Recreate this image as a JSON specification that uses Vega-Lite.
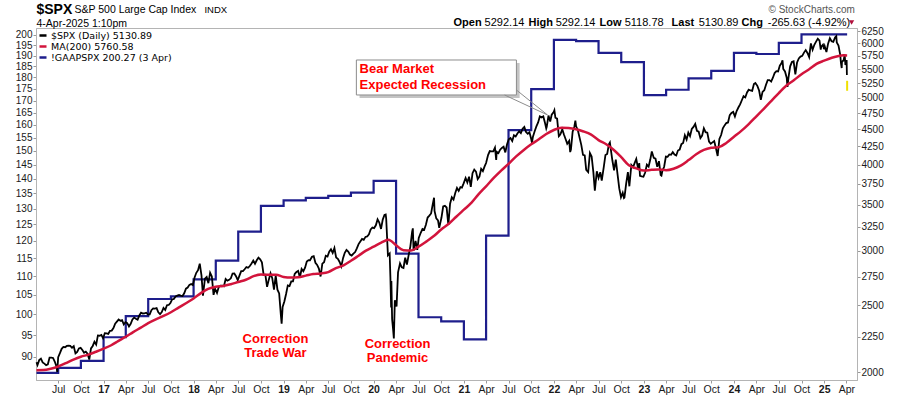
{
"$schema":"https://vega.github.io/schema/vega-lite/v6.json",
"width":821,"height":352,
"autosize":{"type":"none"},
"padding":{"left":36,"top":28,"right":43,"bottom":16},
"background":"white",
"config":{"view":{"stroke":"#b4b4b4","strokeWidth":1},"font":"Liberation Sans","text":{"font":"Liberation Sans"}},
"datasets":{
"one":[{}],
"spx":[
{"d":"2016-04-04","v":2066},{"d":"2016-04-08","v":2047},{"d":"2016-04-15","v":2081},{"d":"2016-04-22","v":2091},{"d":"2016-04-29","v":2065},{"d":"2016-05-06","v":2057},{"d":"2016-05-13","v":2046},{"d":"2016-05-20","v":2052},{"d":"2016-05-27","v":2099},{"d":"2016-06-03","v":2099},{"d":"2016-06-10","v":2096},{"d":"2016-06-17","v":2071},{"d":"2016-06-24","v":2037},{"d":"2016-06-27","v":2000},{"d":"2016-07-01","v":2102},{"d":"2016-07-08","v":2130},{"d":"2016-07-15","v":2161},{"d":"2016-07-22","v":2175},{"d":"2016-07-29","v":2173},{"d":"2016-08-05","v":2182},{"d":"2016-08-12","v":2184},{"d":"2016-08-19","v":2183},{"d":"2016-08-26","v":2169},{"d":"2016-09-02","v":2180},{"d":"2016-09-09","v":2128},{"d":"2016-09-16","v":2139},{"d":"2016-09-23","v":2164},{"d":"2016-09-30","v":2168},{"d":"2016-10-07","v":2153},{"d":"2016-10-14","v":2133},{"d":"2016-10-21","v":2141},{"d":"2016-10-28","v":2126},{"d":"2016-11-04","v":2085},{"d":"2016-11-11","v":2164},{"d":"2016-11-18","v":2182},{"d":"2016-11-25","v":2213},{"d":"2016-12-02","v":2192},{"d":"2016-12-09","v":2260},{"d":"2016-12-16","v":2258},{"d":"2016-12-23","v":2264},{"d":"2016-12-30","v":2239},
{"d":"2017-01-06","v":2277},{"d":"2017-01-13","v":2275},{"d":"2017-01-20","v":2271},{"d":"2017-01-27","v":2295},{"d":"2017-02-03","v":2297},{"d":"2017-02-10","v":2316},{"d":"2017-02-17","v":2351},{"d":"2017-02-24","v":2367},{"d":"2017-03-03","v":2383},{"d":"2017-03-10","v":2373},{"d":"2017-03-17","v":2378},{"d":"2017-03-24","v":2344},{"d":"2017-03-31","v":2363},{"d":"2017-04-07","v":2355},{"d":"2017-04-14","v":2329},{"d":"2017-04-21","v":2349},{"d":"2017-04-28","v":2384},{"d":"2017-05-05","v":2399},{"d":"2017-05-12","v":2390},{"d":"2017-05-19","v":2382},{"d":"2017-05-26","v":2416},{"d":"2017-06-02","v":2439},{"d":"2017-06-09","v":2432},{"d":"2017-06-16","v":2433},{"d":"2017-06-23","v":2438},{"d":"2017-06-30","v":2423},{"d":"2017-07-07","v":2425},{"d":"2017-07-14","v":2459},{"d":"2017-07-21","v":2473},{"d":"2017-07-28","v":2472},{"d":"2017-08-04","v":2476},{"d":"2017-08-11","v":2441},{"d":"2017-08-18","v":2426},{"d":"2017-08-25","v":2443},{"d":"2017-09-01","v":2477},{"d":"2017-09-08","v":2461},{"d":"2017-09-15","v":2500},{"d":"2017-09-22","v":2502},{"d":"2017-09-29","v":2519},{"d":"2017-10-06","v":2549},{"d":"2017-10-13","v":2553},{"d":"2017-10-20","v":2575},{"d":"2017-10-27","v":2581},{"d":"2017-11-03","v":2587},{"d":"2017-11-10","v":2582},{"d":"2017-11-17","v":2578},{"d":"2017-11-24","v":2602},{"d":"2017-12-01","v":2642},{"d":"2017-12-08","v":2652},{"d":"2017-12-15","v":2676},{"d":"2017-12-22","v":2683},{"d":"2017-12-29","v":2674},
{"d":"2018-01-05","v":2743},{"d":"2018-01-12","v":2786},{"d":"2018-01-19","v":2810},{"d":"2018-01-26","v":2873},{"d":"2018-02-02","v":2762},{"d":"2018-02-08","v":2581},{"d":"2018-02-16","v":2732},{"d":"2018-02-23","v":2747},{"d":"2018-03-02","v":2691},{"d":"2018-03-09","v":2786},{"d":"2018-03-16","v":2752},{"d":"2018-03-23","v":2588},{"d":"2018-03-29","v":2641},{"d":"2018-04-06","v":2604},{"d":"2018-04-13","v":2656},{"d":"2018-04-20","v":2670},{"d":"2018-04-27","v":2670},{"d":"2018-05-04","v":2663},{"d":"2018-05-11","v":2728},{"d":"2018-05-18","v":2713},{"d":"2018-05-25","v":2721},{"d":"2018-06-01","v":2735},{"d":"2018-06-08","v":2779},{"d":"2018-06-15","v":2780},{"d":"2018-06-22","v":2755},{"d":"2018-06-29","v":2718},{"d":"2018-07-06","v":2760},{"d":"2018-07-13","v":2801},{"d":"2018-07-20","v":2802},{"d":"2018-07-27","v":2819},{"d":"2018-08-03","v":2840},{"d":"2018-08-10","v":2833},{"d":"2018-08-17","v":2850},{"d":"2018-08-24","v":2875},{"d":"2018-08-31","v":2902},{"d":"2018-09-07","v":2872},{"d":"2018-09-14","v":2905},{"d":"2018-09-21","v":2930},{"d":"2018-09-28","v":2914},{"d":"2018-10-05","v":2886},{"d":"2018-10-12","v":2767},{"d":"2018-10-19","v":2768},{"d":"2018-10-26","v":2659},{"d":"2018-11-02","v":2723},{"d":"2018-11-09","v":2781},{"d":"2018-11-16","v":2736},{"d":"2018-11-23","v":2633},{"d":"2018-11-30","v":2760},{"d":"2018-12-07","v":2633},{"d":"2018-12-14","v":2600},{"d":"2018-12-21","v":2417},{"d":"2018-12-24","v":2351},{"d":"2018-12-28","v":2486},
{"d":"2019-01-04","v":2532},{"d":"2019-01-11","v":2596},{"d":"2019-01-18","v":2671},{"d":"2019-01-25","v":2665},{"d":"2019-02-01","v":2707},{"d":"2019-02-08","v":2708},{"d":"2019-02-15","v":2776},{"d":"2019-02-22","v":2793},{"d":"2019-03-01","v":2804},{"d":"2019-03-08","v":2743},{"d":"2019-03-15","v":2822},{"d":"2019-03-22","v":2800},{"d":"2019-03-29","v":2834},{"d":"2019-04-05","v":2893},{"d":"2019-04-12","v":2907},{"d":"2019-04-18","v":2905},{"d":"2019-04-26","v":2940},{"d":"2019-05-03","v":2946},{"d":"2019-05-10","v":2881},{"d":"2019-05-17","v":2860},{"d":"2019-05-24","v":2826},{"d":"2019-05-31","v":2752},{"d":"2019-06-07","v":2873},{"d":"2019-06-14","v":2887},{"d":"2019-06-21","v":2950},{"d":"2019-06-28","v":2942},{"d":"2019-07-05","v":2990},{"d":"2019-07-12","v":3014},{"d":"2019-07-19","v":2977},{"d":"2019-07-26","v":3026},{"d":"2019-08-02","v":2932},{"d":"2019-08-09","v":2919},{"d":"2019-08-16","v":2889},{"d":"2019-08-23","v":2847},{"d":"2019-08-30","v":2926},{"d":"2019-09-06","v":2979},{"d":"2019-09-13","v":3007},{"d":"2019-09-20","v":2992},{"d":"2019-09-27","v":2962},{"d":"2019-10-04","v":2952},{"d":"2019-10-11","v":2970},{"d":"2019-10-18","v":2986},{"d":"2019-10-25","v":3023},{"d":"2019-11-01","v":3067},{"d":"2019-11-08","v":3093},{"d":"2019-11-15","v":3120},{"d":"2019-11-22","v":3110},{"d":"2019-11-29","v":3141},{"d":"2019-12-06","v":3146},{"d":"2019-12-13","v":3169},{"d":"2019-12-20","v":3221},{"d":"2019-12-27","v":3240},
{"d":"2020-01-03","v":3235},{"d":"2020-01-10","v":3265},{"d":"2020-01-17","v":3330},{"d":"2020-01-24","v":3295},{"d":"2020-01-31","v":3226},{"d":"2020-02-07","v":3328},{"d":"2020-02-14","v":3380},{"d":"2020-02-19","v":3386},{"d":"2020-02-21","v":3338},{"d":"2020-02-28","v":2954},{"d":"2020-03-06","v":2972},{"d":"2020-03-09","v":2747},{"d":"2020-03-12","v":2481},{"d":"2020-03-13","v":2711},{"d":"2020-03-16","v":2386},{"d":"2020-03-20","v":2305},{"d":"2020-03-23","v":2237},{"d":"2020-03-27","v":2541},{"d":"2020-04-03","v":2489},{"d":"2020-04-09","v":2790},{"d":"2020-04-17","v":2875},{"d":"2020-04-24","v":2837},{"d":"2020-05-01","v":2831},{"d":"2020-05-08","v":2930},{"d":"2020-05-15","v":2864},{"d":"2020-05-22","v":2955},{"d":"2020-05-29","v":3044},{"d":"2020-06-05","v":3194},{"d":"2020-06-08","v":3232},{"d":"2020-06-11","v":3002},{"d":"2020-06-19","v":3098},{"d":"2020-06-26","v":3009},{"d":"2020-07-02","v":3130},{"d":"2020-07-10","v":3185},{"d":"2020-07-17","v":3225},{"d":"2020-07-24","v":3216},{"d":"2020-07-31","v":3271},{"d":"2020-08-07","v":3351},{"d":"2020-08-14","v":3373},{"d":"2020-08-21","v":3397},{"d":"2020-08-28","v":3508},{"d":"2020-09-02","v":3580},{"d":"2020-09-04","v":3427},{"d":"2020-09-11","v":3341},{"d":"2020-09-18","v":3319},{"d":"2020-09-23","v":3237},{"d":"2020-10-02","v":3348},{"d":"2020-10-09","v":3477},{"d":"2020-10-16","v":3484},{"d":"2020-10-23","v":3465},{"d":"2020-10-30","v":3270},{"d":"2020-11-06","v":3510},{"d":"2020-11-13","v":3585},{"d":"2020-11-20","v":3558},{"d":"2020-11-27","v":3638},{"d":"2020-12-04","v":3699},{"d":"2020-12-11","v":3663},{"d":"2020-12-18","v":3709},{"d":"2020-12-24","v":3703},{"d":"2020-12-31","v":3756},
{"d":"2021-01-08","v":3825},{"d":"2021-01-15","v":3768},{"d":"2021-01-22","v":3841},{"d":"2021-01-29","v":3714},{"d":"2021-02-05","v":3887},{"d":"2021-02-12","v":3934},{"d":"2021-02-19","v":3907},{"d":"2021-02-26","v":3811},{"d":"2021-03-05","v":3842},{"d":"2021-03-12","v":3943},{"d":"2021-03-19","v":3913},{"d":"2021-03-26","v":3975},{"d":"2021-04-01","v":4020},{"d":"2021-04-09","v":4129},{"d":"2021-04-16","v":4185},{"d":"2021-04-23","v":4180},{"d":"2021-04-30","v":4181},{"d":"2021-05-07","v":4233},{"d":"2021-05-12","v":4063},{"d":"2021-05-14","v":4174},{"d":"2021-05-21","v":4156},{"d":"2021-05-28","v":4204},{"d":"2021-06-04","v":4230},{"d":"2021-06-11","v":4247},{"d":"2021-06-18","v":4166},{"d":"2021-06-25","v":4281},{"d":"2021-07-02","v":4352},{"d":"2021-07-09","v":4370},{"d":"2021-07-16","v":4327},{"d":"2021-07-23","v":4412},{"d":"2021-07-30","v":4395},{"d":"2021-08-06","v":4437},{"d":"2021-08-13","v":4468},{"d":"2021-08-20","v":4442},{"d":"2021-08-27","v":4509},{"d":"2021-09-03","v":4535},{"d":"2021-09-10","v":4459},{"d":"2021-09-17","v":4433},{"d":"2021-09-24","v":4455},{"d":"2021-10-01","v":4357},{"d":"2021-10-04","v":4300},{"d":"2021-10-08","v":4391},{"d":"2021-10-15","v":4471},{"d":"2021-10-22","v":4545},{"d":"2021-10-29","v":4605},{"d":"2021-11-05","v":4698},{"d":"2021-11-12","v":4683},{"d":"2021-11-19","v":4698},{"d":"2021-11-26","v":4595},{"d":"2021-12-01","v":4513},{"d":"2021-12-03","v":4538},{"d":"2021-12-10","v":4712},{"d":"2021-12-17","v":4620},{"d":"2021-12-23","v":4725},{"d":"2021-12-31","v":4766},
{"d":"2022-01-03","v":4796},{"d":"2022-01-07","v":4677},{"d":"2022-01-14","v":4663},{"d":"2022-01-21","v":4398},{"d":"2022-01-24","v":4410},{"d":"2022-01-28","v":4432},{"d":"2022-02-04","v":4500},{"d":"2022-02-11","v":4419},{"d":"2022-02-18","v":4349},{"d":"2022-02-24","v":4288},{"d":"2022-03-04","v":4329},{"d":"2022-03-08","v":4170},{"d":"2022-03-11","v":4204},{"d":"2022-03-18","v":4463},{"d":"2022-03-25","v":4543},{"d":"2022-03-29","v":4632},{"d":"2022-04-01","v":4546},{"d":"2022-04-08","v":4488},{"d":"2022-04-14","v":4393},{"d":"2022-04-22","v":4272},{"d":"2022-04-29","v":4132},{"d":"2022-05-06","v":4123},{"d":"2022-05-12","v":3930},{"d":"2022-05-20","v":3901},{"d":"2022-05-27","v":4158},{"d":"2022-06-03","v":4109},{"d":"2022-06-10","v":3901},{"d":"2022-06-16","v":3667},{"d":"2022-06-24","v":3912},{"d":"2022-07-01","v":3825},{"d":"2022-07-08","v":3899},{"d":"2022-07-14","v":3790},{"d":"2022-07-22","v":3962},{"d":"2022-07-29","v":4130},{"d":"2022-08-05","v":4145},{"d":"2022-08-12","v":4280},{"d":"2022-08-16","v":4305},{"d":"2022-08-19","v":4228},{"d":"2022-08-26","v":4058},{"d":"2022-09-02","v":3924},{"d":"2022-09-09","v":4067},{"d":"2022-09-16","v":3873},{"d":"2022-09-23","v":3693},{"d":"2022-09-30","v":3586},{"d":"2022-10-07","v":3640},{"d":"2022-10-12","v":3577},{"d":"2022-10-14","v":3583},{"d":"2022-10-21","v":3753},{"d":"2022-10-28","v":3901},{"d":"2022-11-03","v":3720},{"d":"2022-11-11","v":3993},{"d":"2022-11-18","v":3965},{"d":"2022-11-25","v":4026},{"d":"2022-12-01","v":4076},{"d":"2022-12-09","v":3934},{"d":"2022-12-13","v":4020},{"d":"2022-12-16","v":3852},{"d":"2022-12-23","v":3845},{"d":"2022-12-30","v":3840},
{"d":"2023-01-06","v":3895},{"d":"2023-01-13","v":3999},{"d":"2023-01-20","v":3973},{"d":"2023-01-27","v":4071},{"d":"2023-02-02","v":4180},{"d":"2023-02-10","v":4090},{"d":"2023-02-17","v":4079},{"d":"2023-02-24","v":3970},{"d":"2023-03-03","v":4046},{"d":"2023-03-10","v":3862},{"d":"2023-03-13","v":3855},{"d":"2023-03-17","v":3917},{"d":"2023-03-24","v":3971},{"d":"2023-03-31","v":4109},{"d":"2023-04-07","v":4105},{"d":"2023-04-14","v":4138},{"d":"2023-04-21","v":4133},{"d":"2023-04-28","v":4169},{"d":"2023-05-05","v":4136},{"d":"2023-05-12","v":4124},{"d":"2023-05-19","v":4192},{"d":"2023-05-26","v":4205},{"d":"2023-06-02","v":4282},{"d":"2023-06-09","v":4299},{"d":"2023-06-16","v":4410},{"d":"2023-06-23","v":4348},{"d":"2023-06-30","v":4450},{"d":"2023-07-07","v":4399},{"d":"2023-07-14","v":4505},{"d":"2023-07-21","v":4536},{"d":"2023-07-28","v":4582},{"d":"2023-08-04","v":4478},{"d":"2023-08-11","v":4464},{"d":"2023-08-18","v":4370},{"d":"2023-08-25","v":4406},{"d":"2023-09-01","v":4516},{"d":"2023-09-08","v":4457},{"d":"2023-09-15","v":4450},{"d":"2023-09-22","v":4320},{"d":"2023-09-29","v":4288},{"d":"2023-10-06","v":4308},{"d":"2023-10-13","v":4327},{"d":"2023-10-20","v":4224},{"d":"2023-10-27","v":4117},{"d":"2023-11-03","v":4358},{"d":"2023-11-10","v":4415},{"d":"2023-11-17","v":4514},{"d":"2023-11-24","v":4559},{"d":"2023-12-01","v":4595},{"d":"2023-12-08","v":4604},{"d":"2023-12-15","v":4719},{"d":"2023-12-22","v":4754},{"d":"2023-12-29","v":4770},
{"d":"2024-01-05","v":4697},{"d":"2024-01-12","v":4784},{"d":"2024-01-19","v":4840},{"d":"2024-01-26","v":4891},{"d":"2024-02-02","v":4959},{"d":"2024-02-09","v":5027},{"d":"2024-02-16","v":5006},{"d":"2024-02-23","v":5089},{"d":"2024-03-01","v":5137},{"d":"2024-03-08","v":5124},{"d":"2024-03-15","v":5117},{"d":"2024-03-22","v":5234},{"d":"2024-03-28","v":5254},{"d":"2024-04-05","v":5204},{"d":"2024-04-12","v":5123},{"d":"2024-04-19","v":4967},{"d":"2024-04-26","v":5100},{"d":"2024-05-03","v":5128},{"d":"2024-05-10","v":5223},{"d":"2024-05-17","v":5303},{"d":"2024-05-24","v":5305},{"d":"2024-05-31","v":5278},{"d":"2024-06-07","v":5347},{"d":"2024-06-14","v":5431},{"d":"2024-06-21","v":5465},{"d":"2024-06-28","v":5460},{"d":"2024-07-05","v":5567},{"d":"2024-07-12","v":5615},{"d":"2024-07-16","v":5667},{"d":"2024-07-19","v":5505},{"d":"2024-07-26","v":5459},{"d":"2024-08-02","v":5346},{"d":"2024-08-05","v":5186},{"d":"2024-08-09","v":5344},{"d":"2024-08-16","v":5554},{"d":"2024-08-23","v":5634},{"d":"2024-08-30","v":5648},{"d":"2024-09-06","v":5408},{"d":"2024-09-13","v":5626},{"d":"2024-09-20","v":5703},{"d":"2024-09-27","v":5738},{"d":"2024-10-04","v":5751},{"d":"2024-10-11","v":5815},{"d":"2024-10-18","v":5864},{"d":"2024-10-25","v":5808},{"d":"2024-11-01","v":5728},{"d":"2024-11-08","v":5996},{"d":"2024-11-15","v":5871},{"d":"2024-11-22","v":5969},{"d":"2024-11-29","v":6032},{"d":"2024-12-06","v":6090},{"d":"2024-12-13","v":6051},{"d":"2024-12-18","v":5872},{"d":"2024-12-20","v":5931},{"d":"2024-12-27","v":5971},{"d":"2024-12-31","v":5882},
{"d":"2025-01-03","v":5942},{"d":"2025-01-10","v":5827},{"d":"2025-01-17","v":5997},{"d":"2025-01-24","v":6101},{"d":"2025-01-31","v":6041},{"d":"2025-02-07","v":6026},{"d":"2025-02-14","v":6115},{"d":"2025-02-19","v":6144},{"d":"2025-02-21","v":6013},{"d":"2025-02-28","v":5955},{"d":"2025-03-07","v":5770},{"d":"2025-03-10","v":5615},{"d":"2025-03-13","v":5522},{"d":"2025-03-14","v":5639},{"d":"2025-03-21","v":5668},{"d":"2025-03-25","v":5776},{"d":"2025-03-28","v":5581},{"d":"2025-03-31","v":5612},{"d":"2025-04-02","v":5671},{"d":"2025-04-03","v":5397}
],
"ma":[
{"d":"2016-04-04","v":2012},{"d":"2016-05-01","v":2013},{"d":"2016-06-01","v":2022},{"d":"2016-07-01","v":2037},{"d":"2016-08-01","v":2060},{"d":"2016-09-01","v":2085},{"d":"2016-10-01","v":2105},{"d":"2016-11-01","v":2120},{"d":"2016-12-01","v":2140},{"d":"2017-01-01","v":2162},{"d":"2017-02-01","v":2187},{"d":"2017-03-01","v":2217},{"d":"2017-04-01","v":2250},{"d":"2017-05-01","v":2285},{"d":"2017-06-01","v":2320},{"d":"2017-07-01","v":2355},{"d":"2017-08-01","v":2385},{"d":"2017-09-01","v":2412},{"d":"2017-10-01","v":2442},{"d":"2017-11-01","v":2480},{"d":"2017-12-01","v":2517},{"d":"2018-01-01","v":2557},{"d":"2018-02-01","v":2605},{"d":"2018-03-01","v":2640},{"d":"2018-04-01","v":2660},{"d":"2018-05-01","v":2666},{"d":"2018-06-01","v":2682},{"d":"2018-07-01","v":2702},{"d":"2018-08-01","v":2722},{"d":"2018-09-01","v":2755},{"d":"2018-10-01","v":2770},{"d":"2018-11-01","v":2767},{"d":"2018-12-01","v":2768},{"d":"2019-01-01","v":2748},{"d":"2019-02-01","v":2742},{"d":"2019-03-01","v":2745},{"d":"2019-04-01","v":2760},{"d":"2019-05-01","v":2775},{"d":"2019-06-01","v":2780},{"d":"2019-07-01","v":2792},{"d":"2019-08-01","v":2830},{"d":"2019-09-01","v":2857},{"d":"2019-10-01","v":2900},{"d":"2019-11-01","v":2950},{"d":"2019-12-01","v":3000},{"d":"2020-01-01","v":3040},{"d":"2020-02-01","v":3082},{"d":"2020-03-01","v":3112},{"d":"2020-04-01","v":3055},{"d":"2020-05-01","v":3005},{"d":"2020-06-01","v":3002},{"d":"2020-07-01","v":3040},{"d":"2020-08-01","v":3092},{"d":"2020-09-01","v":3150},{"d":"2020-10-01","v":3220},{"d":"2020-11-01","v":3282},{"d":"2020-12-01","v":3360},{"d":"2021-01-01","v":3440},{"d":"2021-02-01","v":3522},{"d":"2021-03-01","v":3620},{"d":"2021-04-01","v":3720},{"d":"2021-05-01","v":3822},{"d":"2021-06-01","v":3920},{"d":"2021-07-01","v":4010},{"d":"2021-08-01","v":4110},{"d":"2021-09-01","v":4200},{"d":"2021-10-01","v":4280},{"d":"2021-11-01","v":4352},{"d":"2021-12-01","v":4430},{"d":"2022-01-01","v":4490},{"d":"2022-02-01","v":4522},{"d":"2022-03-01","v":4518},{"d":"2022-04-01","v":4500},{"d":"2022-05-01","v":4468},{"d":"2022-06-01","v":4420},{"d":"2022-07-01","v":4340},{"d":"2022-08-01","v":4280},{"d":"2022-09-01","v":4200},{"d":"2022-10-01","v":4100},{"d":"2022-11-01","v":3990},{"d":"2022-12-01","v":3950},{"d":"2023-01-01","v":3920},{"d":"2023-02-01","v":3930},{"d":"2023-03-01","v":3936},{"d":"2023-04-01","v":3925},{"d":"2023-05-01","v":3945},{"d":"2023-06-01","v":3990},{"d":"2023-07-01","v":4060},{"d":"2023-08-01","v":4140},{"d":"2023-09-01","v":4200},{"d":"2023-10-01","v":4230},{"d":"2023-11-01","v":4240},{"d":"2023-12-01","v":4300},{"d":"2024-01-01","v":4390},{"d":"2024-02-01","v":4480},{"d":"2024-03-01","v":4580},{"d":"2024-04-01","v":4700},{"d":"2024-05-01","v":4820},{"d":"2024-06-01","v":4950},{"d":"2024-07-01","v":5080},{"d":"2024-08-01","v":5210},{"d":"2024-09-01","v":5305},{"d":"2024-10-01","v":5410},{"d":"2024-11-01","v":5500},{"d":"2024-12-01","v":5600},{"d":"2025-01-01","v":5660},{"d":"2025-02-01","v":5715},{"d":"2025-03-01","v":5750},{"d":"2025-03-20","v":5763},{"d":"2025-04-04","v":5761}
],
"eps":[
{"d":"2016-04-04","v":86.5},{"d":"2016-07-01","v":87.6},{"d":"2016-10-01","v":89.1},{"d":"2017-01-01","v":94.5},{"d":"2017-04-01","v":99.6},{"d":"2017-07-01","v":103.9},{"d":"2017-10-01","v":104.6},{"d":"2018-01-01","v":109.1},{"d":"2018-04-01","v":114.3},{"d":"2018-07-01","v":122.8},{"d":"2018-10-01","v":130.9},{"d":"2019-01-01","v":132.7},{"d":"2019-04-01","v":133.5},{"d":"2019-07-01","v":134.2},{"d":"2019-10-01","v":135.3},{"d":"2020-01-01","v":139.3},{"d":"2020-04-01","v":116.3},{"d":"2020-07-01","v":99.3},{"d":"2020-10-01","v":98.3},{"d":"2021-01-01","v":94.0},{"d":"2021-04-01","v":121.6},{"d":"2021-07-01","v":158.0},{"d":"2021-10-01","v":174.9},{"d":"2022-01-01","v":197.6},{"d":"2022-04-01","v":197.0},{"d":"2022-07-01","v":191.3},{"d":"2022-10-01","v":187.0},{"d":"2023-01-01","v":172.3},{"d":"2023-04-01","v":174.6},{"d":"2023-07-01","v":179.6},{"d":"2023-10-01","v":183.0},{"d":"2024-01-01","v":191.3},{"d":"2024-04-01","v":190.8},{"d":"2024-07-01","v":196.1},{"d":"2024-10-01","v":200.27},{"d":"2025-04-04","v":200.27}
],
"today":[{"d":"2025-04-04","lo":5118.78,"hi":5292.14}]
},
"layer":[
{"data":{"name":"eps"},
 "mark":{"type":"line","interpolate":"step-after","strokeWidth":2.2},
 "encoding":{
  "x":{"field":"d","type":"temporal","scale":{"type":"utc","domain":[{"year":2016,"month":4,"date":2,"utc":true},{"year":2025,"month":5,"date":14,"utc":true}]},
   "axis":{"orient":"bottom","title":null,"grid":false,"tickCount":{"interval":"month","step":3},
    "labelExpr":"utcmonth(datum.value)==0 ? utcFormat(datum.value,'%y') : utcFormat(datum.value,'%b')",
    "labelFontWeight":{"condition":{"test":"utcmonth(datum.value)==0","value":"bold"},"value":"normal"},
    "labelFont":"Liberation Sans","labelFontSize":10.5,"labelColor":"#1a1a1a","tickSize":3,"tickColor":"#999999","domainColor":"#b4b4b4","labelPadding":1,"labelOverlap":false,"labelFlush":false}},
  "y":{"field":"v","type":"quantitative","scale":{"type":"log","domain":[84.99,203.5],"nice":false,"zero":false},
   "axis":{"orient":"left","title":null,"grid":false,"values":[90,95,100,105,110,115,120,125,130,135,140,145,150,155,160,165,170,175,180,185,190,195,200],"format":"d","labelFont":"Liberation Sans","labelFontSize":10,"labelColor":"#1a1a1a","tickSize":3,"tickColor":"#999999","domainColor":"#b4b4b4","labelPadding":1,"labelOverlap":false,"labelFlush":false}},
  "color":{"datum":"GAAP","scale":{"domain":["SPX","MA","GAAP"],"range":["#000000","#d2143c","#1e1e8c"]},
   "legend":{"orient":"top-left","offset":2,"padding":0,"title":null,"symbolType":"stroke","symbolSize":49,"symbolStrokeWidth":2.5,"labelFont":"DejaVu Sans","labelFontSize":9.5,"labelOffset":3,"clipHeight":11,"rowPadding":0,
    "labelExpr":"datum.value === 'SPX' ? '$SPX (Daily) 5130.89' : datum.value === 'MA' ? 'MA(200) 5760.58' : '!GAAPSPX 200.27 (3 Apr)'",
    "encode":{"labels":{"fill":{"condition":[{"test":"datum.value === 'MA'","value":"#d2143c"},{"test":"datum.value === 'GAAP'","value":"#1e1e8c"}],"value":"#000000"}}}}}
 }},
{"layer":[
 {"data":{"name":"spx"},
  "mark":{"type":"line","strokeWidth":1.8},
  "encoding":{
   "x":{"field":"d","type":"temporal"},
   "y":{"field":"v","type":"quantitative","scale":{"type":"log","domain":[1947.3,6313],"nice":false,"zero":false},
    "axis":{"orient":"right","title":null,"grid":false,"values":[2000,2250,2500,2750,3000,3250,3500,3750,4000,4250,4500,4750,5000,5250,5500,5750,6000,6250],"format":"d","labelFont":"Liberation Sans","labelFontSize":10,"labelColor":"#1a1a1a","tickSize":3,"tickColor":"#999999","domainColor":"#b4b4b4","labelPadding":1,"labelOverlap":false,"labelFlush":false}},
   "color":{"datum":"SPX"}}},
 {"data":{"name":"ma"},
  "mark":{"type":"line","strokeWidth":2.5,"interpolate":"monotone"},
  "encoding":{
   "x":{"field":"d","type":"temporal"},
   "y":{"field":"v","type":"quantitative"},
   "color":{"datum":"MA"}}},
 {"data":{"name":"today"},
  "mark":{"type":"rule","color":"#f0e000","strokeWidth":2},
  "encoding":{
   "x":{"field":"d","type":"temporal"},
   "y":{"field":"lo","type":"quantitative"},
   "y2":{"field":"hi"}}},
 {"data":{"name":"one"},"mark":{"type":"rect","fill":"#c4c4c4"},
  "encoding":{
   "x":{"datum":{"year":2019,"month":11,"date":5,"utc":true},"type":"temporal"},
   "x2":{"datum":{"year":2021,"month":8,"date":15,"utc":true}},
   "y":{"datum":5616,"type":"quantitative"},
   "y2":{"datum":4996}}},
 {"data":{"name":"one"},"mark":{"type":"rect","fill":"#ffffff","stroke":"#8c8c8c","strokeWidth":1},
  "encoding":{
   "x":{"datum":{"year":2019,"month":10,"date":23,"utc":true},"type":"temporal"},
   "x2":{"datum":{"year":2021,"month":8,"date":2,"utc":true}},
   "y":{"datum":5673,"type":"quantitative"},
   "y2":{"datum":5047}}},
 {"data":{"name":"one"},"mark":{"type":"rule","color":"#8c8c8c","strokeWidth":1},
  "encoding":{
   "x":{"datum":{"year":2021,"month":6,"date":15,"utc":true},"type":"temporal"},
   "x2":{"datum":{"year":2021,"month":12,"date":6,"utc":true}},
   "y":{"datum":5047,"type":"quantitative"},
   "y2":{"datum":4721}}},
 {"data":{"name":"one"},"mark":{"type":"rule","color":"#8c8c8c","strokeWidth":1},
  "encoding":{
   "x":{"datum":{"year":2021,"month":8,"date":2,"utc":true},"type":"temporal"},
   "x2":{"datum":{"year":2021,"month":12,"date":6,"utc":true}},
   "y":{"datum":5132,"type":"quantitative"},
   "y2":{"datum":4721}}},
 {"data":{"name":"one"},"mark":{"type":"text","align":"left","baseline":"alphabetic","fontSize":13,"fontWeight":"bold","color":"#ff0000"},
  "encoding":{"x":{"datum":{"year":2019,"month":11,"date":5,"utc":true},"type":"temporal"},"y":{"datum":5423,"type":"quantitative"},"text":{"value":"Bear Market"}}},
 {"data":{"name":"one"},"mark":{"type":"text","align":"left","baseline":"alphabetic","fontSize":13,"fontWeight":"bold","color":"#ff0000"},
  "encoding":{"x":{"datum":{"year":2019,"month":11,"date":5,"utc":true},"type":"temporal"},"y":{"datum":5149,"type":"quantitative"},"text":{"value":"Expected Recession"}}},
 {"data":{"name":"one"},"mark":{"type":"text","align":"center","baseline":"alphabetic","fontSize":13,"fontWeight":"bold","color":"#ff0000"},
  "encoding":{"x":{"datum":{"year":2018,"month":11,"date":29,"utc":true},"type":"temporal"},"y":{"datum":2204,"type":"quantitative"},"text":{"value":"Correction"}}},
 {"data":{"name":"one"},"mark":{"type":"text","align":"center","baseline":"alphabetic","fontSize":13,"fontWeight":"bold","color":"#ff0000"},
  "encoding":{"x":{"datum":{"year":2018,"month":11,"date":29,"utc":true},"type":"temporal"},"y":{"datum":2104,"type":"quantitative"},"text":{"value":"Trade War"}}},
 {"data":{"name":"one"},"mark":{"type":"text","align":"center","baseline":"alphabetic","fontSize":13,"fontWeight":"bold","color":"#ff0000"},
  "encoding":{"x":{"datum":{"year":2020,"month":4,"date":7,"utc":true},"type":"temporal"},"y":{"datum":2168,"type":"quantitative"},"text":{"value":"Correction"}}},
 {"data":{"name":"one"},"mark":{"type":"text","align":"center","baseline":"alphabetic","fontSize":13,"fontWeight":"bold","color":"#ff0000"},
  "encoding":{"x":{"datum":{"year":2020,"month":4,"date":7,"utc":true},"type":"temporal"},"y":{"datum":2069,"type":"quantitative"},"text":{"value":"Pandemic"}}},
 {"data":{"name":"one"},"mark":{"type":"text","align":"left","baseline":"alphabetic","fontSize":14,"fontWeight":"bold","color":"#000000"},
  "encoding":{"x":{"datum":{"year":2016,"month":4,"date":4,"utc":true},"type":"temporal"},"y":{"datum":6615,"type":"quantitative"},"text":{"value":"$SPX"}}},
 {"data":{"name":"one"},"mark":{"type":"text","align":"left","baseline":"alphabetic","fontSize":10.5,"color":"#000000"},
  "encoding":{"x":{"datum":{"year":2016,"month":9,"date":5,"utc":true},"type":"temporal"},"y":{"datum":6644,"type":"quantitative"},"text":{"value":"S&P 500 Large Cap Index"}}},
 {"data":{"name":"one"},"mark":{"type":"text","align":"left","baseline":"alphabetic","fontSize":9.5,"color":"#000000"},
  "encoding":{"x":{"datum":{"year":2018,"month":2,"date":14,"utc":true},"type":"temporal"},"y":{"datum":6644,"type":"quantitative"},"text":{"value":"INDX"}}},
 {"data":{"name":"one"},"mark":{"type":"text","align":"left","baseline":"alphabetic","fontSize":10.5,"color":"#000000"},
  "encoding":{"x":{"datum":{"year":2016,"month":4,"date":4,"utc":true},"type":"temporal"},"y":{"datum":6340,"type":"quantitative"},"text":{"value":"4-Apr-2025 1:10pm"}}},
 {"data":{"name":"one"},"mark":{"type":"text","align":"right","baseline":"alphabetic","fontSize":10,"color":"#555555"},
  "encoding":{"x":{"datum":{"year":2025,"month":5,"date":5,"utc":true},"type":"temporal"},"y":{"datum":6644,"type":"quantitative"},"text":{"value":"© StockCharts.com"}}},
 {"data":{"name":"one"},"mark":{"type":"text","align":"left","baseline":"alphabetic","fontSize":11,"fontWeight":"bold","color":"#000000"},
  "encoding":{"x":{"datum":{"year":2020,"month":11,"date":20,"utc":true},"type":"temporal"},"y":{"datum":6362,"type":"quantitative"},"text":{"value":"Open"}}},
 {"data":{"name":"one"},"mark":{"type":"text","align":"left","baseline":"alphabetic","fontSize":11,"color":"#000000"},
  "encoding":{"x":{"datum":{"year":2021,"month":3,"date":26,"utc":true},"type":"temporal"},"y":{"datum":6362,"type":"quantitative"},"text":{"value":"5292.14"}}},
 {"data":{"name":"one"},"mark":{"type":"text","align":"left","baseline":"alphabetic","fontSize":11,"fontWeight":"bold","color":"#000000"},
  "encoding":{"x":{"datum":{"year":2021,"month":9,"date":20,"utc":true},"type":"temporal"},"y":{"datum":6362,"type":"quantitative"},"text":{"value":"High"}}},
 {"data":{"name":"one"},"mark":{"type":"text","align":"left","baseline":"alphabetic","fontSize":11,"color":"#000000"},
  "encoding":{"x":{"datum":{"year":2022,"month":1,"date":8,"utc":true},"type":"temporal"},"y":{"datum":6362,"type":"quantitative"},"text":{"value":"5292.14"}}},
 {"data":{"name":"one"},"mark":{"type":"text","align":"left","baseline":"alphabetic","fontSize":11,"fontWeight":"bold","color":"#000000"},
  "encoding":{"x":{"datum":{"year":2022,"month":7,"date":5,"utc":true},"type":"temporal"},"y":{"datum":6362,"type":"quantitative"},"text":{"value":"Low"}}},
 {"data":{"name":"one"},"mark":{"type":"text","align":"left","baseline":"alphabetic","fontSize":11,"color":"#000000"},
  "encoding":{"x":{"datum":{"year":2022,"month":10,"date":15,"utc":true},"type":"temporal"},"y":{"datum":6362,"type":"quantitative"},"text":{"value":"5118.78"}}},
 {"data":{"name":"one"},"mark":{"type":"text","align":"left","baseline":"alphabetic","fontSize":11,"fontWeight":"bold","color":"#000000"},
  "encoding":{"x":{"datum":{"year":2023,"month":4,"date":23,"utc":true},"type":"temporal"},"y":{"datum":6362,"type":"quantitative"},"text":{"value":"Last"}}},
 {"data":{"name":"one"},"mark":{"type":"text","align":"left","baseline":"alphabetic","fontSize":11,"color":"#000000"},
  "encoding":{"x":{"datum":{"year":2023,"month":8,"date":11,"utc":true},"type":"temporal"},"y":{"datum":6362,"type":"quantitative"},"text":{"value":"5130.89"}}},
 {"data":{"name":"one"},"mark":{"type":"text","align":"left","baseline":"alphabetic","fontSize":11,"fontWeight":"bold","color":"#000000"},
  "encoding":{"x":{"datum":{"year":2024,"month":2,"date":1,"utc":true},"type":"temporal"},"y":{"datum":6362,"type":"quantitative"},"text":{"value":"Chg"}}},
 {"data":{"name":"one"},"mark":{"type":"text","align":"left","baseline":"alphabetic","fontSize":11,"color":"#000000"},
  "encoding":{"x":{"datum":{"year":2024,"month":5,"date":17,"utc":true},"type":"temporal"},"y":{"datum":6362,"type":"quantitative"},"text":{"value":"-265.63 (-4.92%)"}}},
 {"data":{"name":"one"},"mark":{"type":"point","shape":"triangle-down","filled":true,"size":28,"color":"#b0103c","opacity":1},
  "encoding":{"x":{"datum":{"year":2025,"month":4,"date":22,"utc":true},"type":"temporal"},"y":{"datum":6430,"type":"quantitative"}}}
]}
],
"resolve":{"scale":{"y":"independent"}}
}
